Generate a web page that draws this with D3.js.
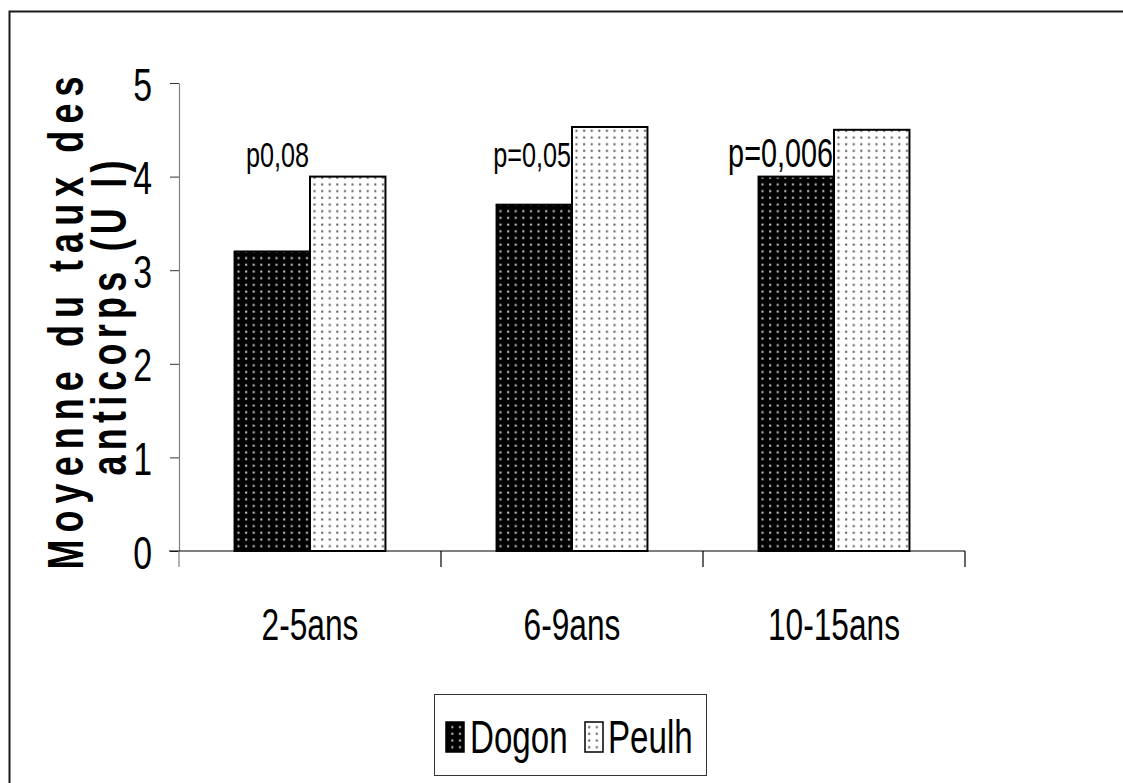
<!DOCTYPE html>
<html>
<head>
<meta charset="utf-8">
<script src="https://cdn.jsdelivr.net/npm/d3@7"></script>
<style>
  html, body { margin: 0; padding: 0; background: #fff; }
  svg { display: block; }
  text { font-family: "Liberation Sans", Arial, sans-serif; fill: #000; }
</style>
</head>
<body>
<svg id="chart" width="1123" height="783"></svg>
<script>
// Age groups and mean antibody levels (UI) per ethnic group
const categories = ["2-5ans", "6-9ans", "10-15ans"];
const seriesNames = ["Dogon", "Peulh"];
const dogon = [3.2, 3.7, 4.0];
const peulh = [4.0, 4.53, 4.5];
const pLabels = ["p0,08", "p=0,05", "p=0,006"];
const yTicks = [0, 1, 2, 3, 4, 5];
const yTitleLines = ["Moyenne du taux des", "anticorps (U I)"];

const rows = categories.map((c, i) => ({ cat: c, values: [dogon[i], peulh[i]] }));

const svg = d3.select("#chart");
const SX = 0.72; // narrow type, horizontally condensed

// outer frame (runs off the right and bottom edge)
svg.append("rect")
  .attr("x", 9.5).attr("y", 11.5).attr("width", 1200).attr("height", 900)
  .attr("fill", "none").attr("stroke", "#1a1a1a").attr("stroke-width", 2);

// fill patterns
const defs = svg.append("defs");
const pDark = defs.append("pattern").attr("id", "patDogon")
  .attr("patternUnits", "userSpaceOnUse").attr("width", 7.6).attr("height", 6.7);
pDark.append("rect").attr("width", 7.6).attr("height", 6.7).attr("fill", "#000");
pDark.append("rect").attr("x", 3).attr("y", 2.5).attr("width", 2).attr("height", 2).attr("fill", "#d0d0d0");

const pLight = defs.append("pattern").attr("id", "patPeulh")
  .attr("patternUnits", "userSpaceOnUse").attr("width", 7.6).attr("height", 6.7);
pLight.append("rect").attr("width", 7.6).attr("height", 6.7).attr("fill", "#fff");
pLight.append("rect").attr("x", 3).attr("y", 2.5).attr("width", 2).attr("height", 2).attr("fill", "#555");

const fills = ["url(#patDogon)", "url(#patPeulh)"];

// scales
const y = d3.scaleLinear().domain([0, 5]).range([551, 83]);
const x = d3.scaleBand().domain(categories).range([179, 965])
  .paddingInner(0.424).paddingOuter(0.212);
const xs = d3.scaleBand().domain(seriesNames).range([0, x.bandwidth()]);

// bars
const groups = svg.append("g").selectAll("g").data(rows).join("g")
  .attr("transform", d => `translate(${x(d.cat)},0)`);
groups.selectAll("rect").data(d => d.values.map((v, j) => ({ v, s: seriesNames[j], j })))
  .join("rect")
  .attr("x", d => xs(d.s))
  .attr("y", d => y(d.v))
  .attr("width", xs.bandwidth())
  .attr("height", d => y(0) - y(d.v))
  .attr("fill", d => fills[d.j])
  .attr("stroke", "#000")
  .attr("stroke-width", 2);

// y axis
const yAxis = svg.append("g").attr("transform", "translate(179,0)")
  .call(d3.axisLeft(y).tickValues(yTicks).tickSize(9).tickSizeOuter(0).tickFormat(d3.format("d")));
yAxis.select(".domain").attr("stroke", "#808080").attr("stroke-width", 1.2);
yAxis.selectAll(".tick line").attr("stroke", "#333");
yAxis.selectAll(".tick text")
  .attr("x", null).attr("dy", null)
  .attr("font-size", 47).attr("text-anchor", "end")
  .attr("dominant-baseline", "central")
  .attr("transform", `translate(-27,1) scale(${SX},1)`);

// x axis line and group separators
svg.append("line")
  .attr("x1", 169).attr("x2", x.range()[1]).attr("y1", y(0)).attr("y2", y(0))
  .attr("stroke", "#000").attr("stroke-width", 1.2);
const bounds = d3.range(categories.length + 1).map(i => x.range()[0] + i * x.step());
svg.append("g").selectAll("line").data(bounds).join("line")
  .attr("x1", d => d).attr("x2", d => d)
  .attr("y1", y(0)).attr("y2", y(0) + 16)
  .attr("stroke", (d, i) => i === 0 ? "#808080" : "#000").attr("stroke-width", 1.2);

// category labels
const xAxis = svg.append("g").attr("transform", `translate(0,${y(0)})`)
  .call(d3.axisBottom(x).tickSize(0));
xAxis.select(".domain").remove();
xAxis.selectAll(".tick text")
  .attr("y", null).attr("dy", null)
  .attr("font-size", 44)
  .attr("transform", `translate(0,89) scale(${SX},1)`);

// significance labels above each pair
svg.append("g").selectAll("text").data(rows).join("text")
  .attr("text-anchor", "end")
  .attr("font-size", (d, i) => i === 2 ? 40 : 35)
  .attr("transform", (d, i) => `translate(${x(d.cat) + xs("Peulh") - 1},${y(4.1)}) scale(${SX},1)`)
  .text((d, i) => pLabels[i]);

// y axis title (two lines, bold, spaced)
const titleSpecs = [
  { line: yTitleLines[0], bx: 83, cy: 323, len: 493 },
  { line: yTitleLines[1], bx: 126, cy: 318, len: 315 }
];
svg.append("g").selectAll("text").data(titleSpecs).join("text")
  .attr("transform", d => `translate(${d.bx},${d.cy}) rotate(-90) scale(${SX},1)`)
  .attr("text-anchor", "middle")
  .attr("font-size", 50)
  .attr("font-weight", "bold")
  .attr("textLength", d => d.len / SX)
  .attr("lengthAdjust", "spacing")
  .text(d => d.line);

// legend
const legend = svg.append("g");
legend.append("rect")
  .attr("x", 434.5).attr("y", 694.5).attr("width", 272).attr("height", 81)
  .attr("fill", "#fff").attr("stroke", "#333").attr("stroke-width", 1);
const legendItems = [
  { name: seriesNames[0], sx: 446, tx: 470 },
  { name: seriesNames[1], sx: 585, tx: 608 }
];
legend.selectAll("rect.sw").data(legendItems).join("rect").attr("class", "sw")
  .attr("x", d => d.sx).attr("y", 722).attr("width", 18).attr("height", 30)
  .attr("fill", (d, i) => fills[i]).attr("stroke", "#000").attr("stroke-width", 1.5);
legend.selectAll("text").data(legendItems).join("text")
  .attr("font-size", 46)
  .attr("transform", d => `translate(${d.tx},753) scale(${SX},1)`)
  .text(d => d.name);
</script>
</body>
</html>
